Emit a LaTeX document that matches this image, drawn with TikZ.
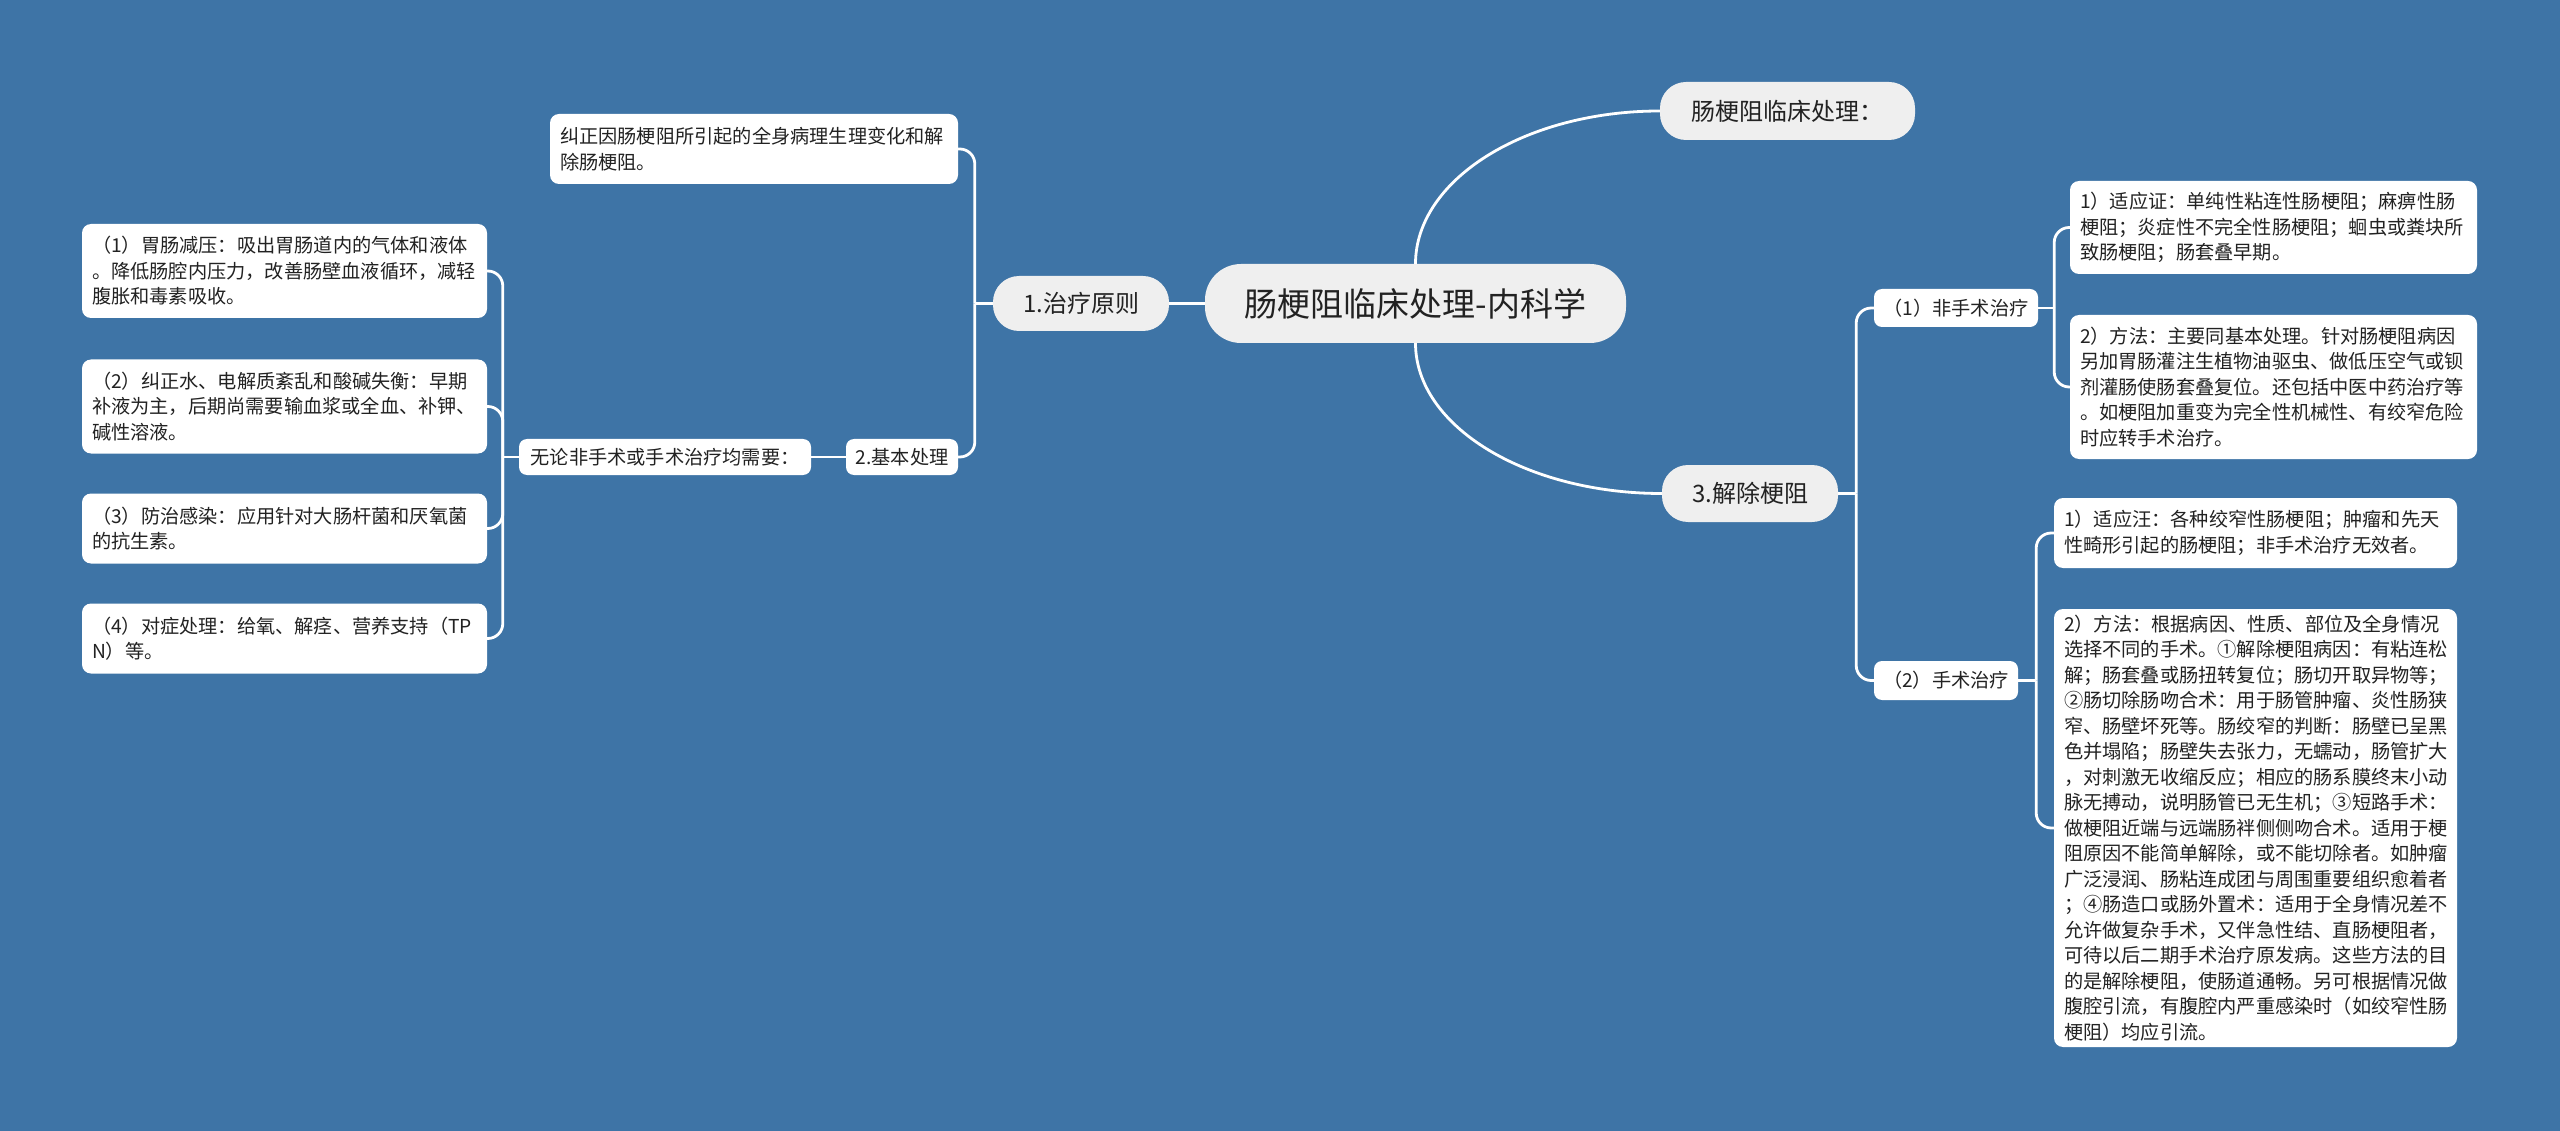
\documentclass[tikz,border=0pt]{standalone}
\usepackage{fontspec}
\setmainfont{Noto Sans CJK SC}
\definecolor{bgblue}{RGB}{62,116,166}
\definecolor{pillgray}{RGB}{239,239,239}
\definecolor{txt}{RGB}{34,34,34}
\tikzset{
  conn/.style={draw=white, line width=2.8pt},
  elbow/.style={conn, rounded corners=15pt},
  rootbox/.style={fill=pillgray, rounded corners=36pt, inner sep=0pt, text=txt, font=\fontsize{33}{40}\selectfont},
  pill/.style={fill=pillgray, rounded corners=26pt, inner sep=0pt, text=txt, font=\fontsize{24}{30}\selectfont},
  tag/.style={fill=white, rounded corners=8pt, inner sep=0pt, text=txt, font=\fontsize{19.2}{25}\selectfont},
  leaf/.style={fill=white, rounded corners=9pt, inner xsep=10pt, inner ysep=0pt, align=left, text=txt, font=\fontsize{19.2}{25.5}\selectfont},
}
\begin{document}
\begin{tikzpicture}[x=1pt,y=-1pt]
\fill[bgblue] (0,0) rectangle (2560,1131);
\useasboundingbox (0,0) rectangle (2560,1131);

% main nodes
\node[rootbox, minimum width=421pt, minimum height=79pt] (root) at (1415.5,303.5) {肠梗阻临床处理-内科学};
\node[pill, minimum width=255pt, minimum height=58pt] (top) at (1787.5,111) {肠梗阻临床处理：};
\node[pill, minimum width=176pt, minimum height=55pt] (zl) at (1081,303.5) {1.治疗原则};
\node[pill, minimum width=176pt, minimum height=57pt] (jc) at (1750,493.5) {3.解除梗阻};

% left side
\node[leaf, text width=388pt, minimum height=70pt] (jz) at (754,149) {纠正因肠梗阻所引起的全身病理生理变化和解\\除肠梗阻。};
\node[tag, minimum width=112pt, minimum height=36pt] (jb) at (902,457) {2.基本处理};
\node[tag, minimum width=292pt, minimum height=36pt] (wl) at (665,457) {无论非手术或手术治疗均需要：};
\node[leaf, text width=385pt, minimum height=94pt] (a1) at (284.5,271) {（1）胃肠减压：吸出胃肠道内的气体和液体\\。降低肠腔内压力，改善肠壁血液循环，减轻\\腹胀和毒素吸收。};
\node[leaf, text width=385pt, minimum height=94pt] (a2) at (284.5,406.5) {（2）纠正水、电解质紊乱和酸碱失衡：早期\\补液为主，后期尚需要输血浆或全血、补钾、\\碱性溶液。};
\node[leaf, text width=385pt, minimum height=70pt] (a3) at (284.5,528.5) {（3）防治感染：应用针对大肠杆菌和厌氧菌\\的抗生素。};
\node[leaf, text width=385pt, minimum height=70pt] (a4) at (284.5,638.5) {（4）对症处理：给氧、解痉、营养支持（TP\\N）等。};

% right side
\node[tag, minimum width=164pt, minimum height=38pt] (fs) at (1956,308) {（1）非手术治疗};
\node[tag, minimum width=144pt, minimum height=39pt] (ss) at (1946,680.5) {（2）手术治疗};
\node[leaf, text width=387pt, minimum height=93pt] (r1) at (2273.5,227.5) {1）适应证：单纯性粘连性肠梗阻；麻痹性肠\\梗阻；炎症性不完全性肠梗阻；蛔虫或粪块所\\致肠梗阻；肠套叠早期。};
\node[leaf, text width=387pt, minimum height=144pt] (r2) at (2273.5,387) {2）方法：主要同基本处理。针对肠梗阻病因\\另加胃肠灌注生植物油驱虫、做低压空气或钡\\剂灌肠使肠套叠复位。还包括中医中药治疗等\\。如梗阻加重变为完全性机械性、有绞窄危险\\时应转手术治疗。};
\node[leaf, text width=383pt, minimum height=70pt] (r3) at (2255.5,533) {1）适应汪：各种绞窄性肠梗阻；肿瘤和先天\\性畸形引起的肠梗阻；非手术治疗无效者。};
\node[leaf, text width=383pt, minimum height=438pt] (r4) at (2255.5,828) {2）方法：根据病因、性质、部位及全身情况\\选择不同的手术。①解除梗阻病因：有粘连松\\解；肠套叠或肠扭转复位；肠切开取异物等；\\②肠切除肠吻合术：用于肠管肿瘤、炎性肠狭\\窄、肠壁坏死等。肠绞窄的判断：肠壁已呈黑\\色并塌陷；肠壁失去张力，无蠕动，肠管扩大\\，对刺激无收缩反应；相应的肠系膜终末小动\\脉无搏动，说明肠管已无生机；③短路手术：\\做梗阻近端与远端肠袢侧侧吻合术。适用于梗\\阻原因不能简单解除，或不能切除者。如肿瘤\\广泛浸润、肠粘连成团与周围重要组织愈着者\\；④肠造口或肠外置术：适用于全身情况差不\\允许做复杂手术，又伴急性结、直肠梗阻者，\\可待以后二期手术治疗原发病。这些方法的目\\的是解除梗阻，使肠道通畅。另可根据情况做\\腹腔引流，有腹腔内严重感染时（如绞窄性肠\\梗阻）均应引流。};

% connectors
\draw[conn] (root.north) .. controls +(0,-84) and +(-135,0) .. (top.west);
\draw[conn] (root.south) .. controls +(0,83) and +(-136,0) .. (jc.west);
\draw[conn] (root.west) -- (zl.east);

\draw[conn] (zl.west) -- ++(-18,0);
\draw[elbow] (zl.west) ++(-18,0) |- (jz.east);
\draw[elbow] (zl.west) ++(-18,0) |- (jb.east);
\draw[conn] (jb.west) -- (wl.east);
\draw[conn] (wl.west) -- ++(-16,0);
\draw[elbow] (wl.west) ++(-16,0) |- (a1.east);
\draw[elbow] (wl.west) ++(-16,0) |- (a2.east);
\draw[elbow] (wl.west) ++(-16,0) |- (a3.east);
\draw[elbow] (wl.west) ++(-16,0) |- (a4.east);

\draw[conn] (jc.east) -- ++(18,0);
\draw[elbow] (jc.east) ++(18,0) |- (fs.west);
\draw[elbow] (jc.east) ++(18,0) |- (ss.west);
\draw[conn] (fs.east) -- ++(16,0);
\draw[elbow] (fs.east) ++(16,0) |- (r1.west);
\draw[elbow] (fs.east) ++(16,0) |- (r2.west);
\draw[conn] (ss.east) -- ++(18,0);
\draw[elbow] (ss.east) ++(18,0) |- (r3.west);
\draw[elbow] (ss.east) ++(18,0) |- (r4.west);
\end{tikzpicture}
\end{document}
